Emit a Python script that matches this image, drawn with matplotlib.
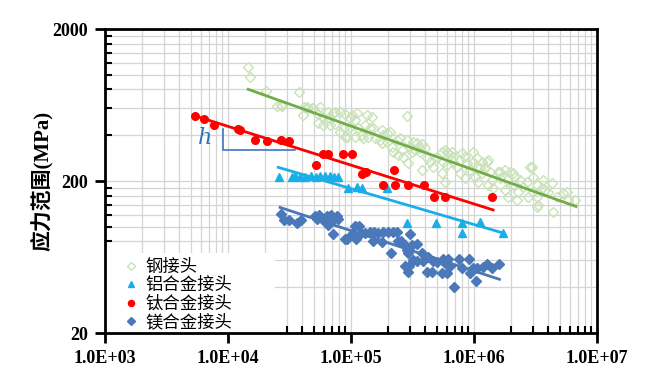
import matplotlib
matplotlib.use("Agg")
import matplotlib.pyplot as plt
import numpy as np
from matplotlib.ticker import FixedLocator, NullFormatter
from matplotlib.patches import Rectangle

plt.rcParams['font.family'] = ['Liberation Serif', 'Noto Sans CJK SC', 'DejaVu Sans']

# ---- data (cycles N, stress range MPa) ----
steel_N = [1.46e4, 1.51e4, 2.04e4, 3.80e4, 2.49e4, 2.68e4, 2.73e4, 4.09e4, 4.17e4, 4.36e4,
           4.50e4, 4.79e4, 4.94e4, 5.60e4, 5.42e4, 5.95e4, 6.62e4, 7.41e4, 8.14e4, 8.94e4,
           1.01e5, 1.11e5, 9.82e4, 1.08e5, 1.34e5, 1.47e5, 5.42e4, 5.95e4, 6.75e4, 7.41e4,
           8.14e4, 8.82e4, 9.82e4, 8.94e4, 1.08e5, 1.15e5, 1.30e5, 1.52e5, 1.38e5, 1.26e5,
           1.78e5, 1.83e5, 2.08e5, 1.72e5, 1.57e5, 1.95e5, 2.14e5, 2.35e5, 2.50e5, 2.58e5,
           2.84e5, 2.84e5, 3.02e5, 3.12e5, 2.66e5, 2.92e5, 2.42e5, 2.21e5, 3.21e5, 3.42e5,
           3.76e5, 3.31e5, 3.64e5, 4.00e5, 4.13e5, 3.76e5, 4.39e5, 4.67e5, 4.98e5, 5.46e5,
           5.81e5, 6.18e5, 6.59e5, 5.63e5, 6.00e5, 5.46e5, 5.81e5, 6.79e5, 7.23e5, 7.94e5,
           8.45e5, 7.70e5, 8.45e5, 9.28e5, 9.87e5, 1.05e6, 1.16e6, 1.31e6, 1.12e6, 1.02e6,
           1.16e6, 1.08e6, 1.23e6, 1.35e6, 1.39e6, 1.31e6, 1.44e6, 1.58e6, 1.79e6, 1.96e6,
           1.63e6, 1.85e6, 2.15e6, 2.37e6, 2.09e6, 1.79e6, 1.90e6, 2.29e6, 2.52e6, 2.68e6,
           2.95e6, 3.04e6, 3.23e6, 3.04e6, 2.76e6, 3.23e6, 3.33e6, 3.55e6, 3.78e6, 4.02e6,
           4.28e6, 4.41e6, 4.70e6, 5.67e6, 5.84e6, 6.62e6, 5.32e6, 2.23e6, 3.23e6, 6.54e4,
           7.18e4, 9.23e4, 1.22e5, 1.43e5, 1.95e5, 1.78e5, 3.64e5, 6.00e5, 6.79e5, 7.70e5,
           8.72e5, 9.87e5, 1.05e6, 1.27e6, 1.63e6, 2.09e6, 2.85e6, 3.66e6]
steel_S = [1119, 971, 782, 774, 626, 632, 626, 544, 617, 617,
           607, 602, 602, 617, 549, 530, 522, 566, 571, 549,
           544, 558, 517, 504, 544, 530, 479, 467, 467, 472,
           422, 444, 455, 391, 391, 444, 467, 448, 391, 382,
           433, 402, 422, 372, 382, 363, 336, 372, 382, 320,
           538, 372, 336, 312, 289, 262, 297, 312, 363, 354,
           350, 320, 312, 328, 282, 236, 268, 248, 289, 312,
           320, 304, 312, 268, 255, 225, 198, 268, 248, 304,
           289, 225, 208, 236, 268, 282, 268, 275, 242, 213,
           225, 198, 242, 230, 203, 188, 179, 230, 236, 230,
           208, 203, 213, 203, 188, 175, 158, 170, 183, 198,
           248, 213, 188, 170, 158, 158, 139, 179, 175, 170,
           193, 126, 158, 170, 150, 150, 166, 150, 135, 571,
           558, 391, 402, 444, 412, 354, 328, 312, 289, 275,
           262, 312, 248, 268, 230, 225, 248, 203]

al_N = [2.60e4, 3.31e4, 3.51e4, 3.85e4, 4.23e4, 4.73e4, 5.19e4, 5.60e4, 6.15e4, 6.75e4,
        7.28e4, 7.84e4, 9.46e4, 1.12e5, 1.23e5, 1.96e5, 2.85e5, 4.91e5, 7.98e5, 7.98e5,
        1.12e6, 1.72e6]
al_S = [212, 212, 216, 212, 212, 216, 212, 216, 216, 216,
        212, 212, 180, 183, 180, 180, 106, 106, 106, 91,
        107, 91]

ti_N = [5390, 6380, 7690, 12000, 12600, 16600, 20800, 27000, 31300, 51900,
        59200, 65000, 86100, 101900, 122800, 132400, 223800, 182000, 228000, 290700,
        392000, 472700, 581000, 1400000]
ti_S = [536, 512, 467, 440, 436, 372, 367, 372, 367, 255,
        301, 301, 301, 301, 222, 229, 236, 188, 188, 188,
        188, 157, 157, 157]

mg_N = [2.68e4, 2.85e4, 3.15e4, 3.66e4, 3.90e4, 5.10e4, 5.52e4, 5.26e4, 5.95e4, 6.34e4,
        6.84e4, 6.54e4, 7.18e4, 7.65e4, 7.88e4, 7.10e4, 8.94e4, 9.33e4, 1.01e5, 1.08e5,
        1.17e5, 1.10e5, 1.20e5, 1.30e5, 1.43e5, 1.54e5, 1.52e5, 1.67e5, 1.83e5, 2.01e5,
        2.21e5, 2.38e5, 1.78e5, 2.10e5, 2.42e5, 2.54e5, 2.75e5, 3.02e5, 2.84e5, 2.92e5,
        3.11e5, 3.42e5, 3.21e5, 3.42e5, 3.76e5, 2.75e5, 2.98e5, 2.92e5, 3.87e5, 4.25e5,
        4.67e5, 4.12e5, 4.53e5, 4.97e5, 5.63e5, 6.18e5, 5.81e5, 6.38e5, 5.46e5, 6.00e5,
        7.60e5, 9.16e5, 7.94e5, 9.87e5, 1.06e6, 9.28e5, 1.04e6, 6.88e5, 1.19e6, 1.28e6,
        1.39e6, 1.61e6]
mg_S = [121, 110, 110, 106, 110, 118, 119, 112, 110, 118,
        119, 103, 110, 118, 112, 89.6, 82.7, 82.7, 89.6, 101,
        101, 82.7, 90.6, 90.6, 92.8, 92.8, 80.9, 90.6, 92.8, 92.8,
        92.8, 92.8, 79.7, 67.5, 80.9, 80.9, 75.9, 89.6, 70.3, 67.5,
        75.9, 77.0, 60.4, 59.8, 67.5, 55.2, 55.2, 50.6, 59.8, 63.0,
        59.8, 50.6, 50.6, 58.9, 61.1, 61.1, 58.0, 55.2, 49.9, 49.9,
        61.1, 61.1, 53.3, 53.3, 53.3, 49.9, 44.2, 40.0, 54.1, 56.9,
        53.3, 56.9]

# fitted lines (end points)
steel_fit_N = [1.46e4, 6.75e6]
steel_fit_S = [802, 136]
al_fit_N = [2.56e4, 1.72e6]
al_fit_S = [246, 91]
ti_fit_N = [5390, 1.43e6]
ti_fit_S = [536, 129]
mg_fit_N = [2.65e4, 1.61e6]
mg_fit_S = [134, 45.1]

labels = ['钢接头', '铝合金接头', '钛合金接头', '镁合金接头']
x_ticks = [1e3, 1e4, 1e5, 1e6, 1e7]
x_ticklabels = ['1.0E+03', '1.0E+04', '1.0E+05', '1.0E+06', '1.0E+07']
y_ticks = [20, 200, 2000]

fig = plt.figure(figsize=(6.56, 3.69), dpi=100)
ax = fig.add_axes([105/656, 1-333/369, 492/656, 304/369])
ax.set_xscale('log')
ax.set_yscale('log')
ax.set_xlim(1e3, 1e7)
ax.set_ylim(20, 2000)

c_steel = '#C9E2B8'
c_steel_line = '#70AD47'
c_al = '#1AAEE8'
c_ti = '#FF0000'
c_mg = '#4A78B8'

ax.plot(steel_N, steel_S, 'D', ms=5, mfc='none', mec=c_steel, mew=1.0, label=labels[0], zorder=3)
ax.plot(al_N, al_S, '^', ms=6, color=c_al, label=labels[1], zorder=4)
ax.plot(ti_N, ti_S, 'o', ms=5.5, color=c_ti, label=labels[2], zorder=4)
ax.plot(mg_N, mg_S, 'D', ms=4.8, color=c_mg, label=labels[3], zorder=4)

ax.plot(steel_fit_N, steel_fit_S, '-', color=c_steel_line, lw=2, zorder=5)
ax.plot(al_fit_N, al_fit_S, '-', color=c_al, lw=2, zorder=5)
ax.plot(ti_fit_N, ti_fit_S, '-', color=c_ti, lw=2, zorder=5)
ax.plot(mg_fit_N, mg_fit_S, '-', color=c_mg, lw=2, zorder=5)

# slope bracket and h
ax.plot([9100, 9100, 35100], [440, 320, 320], '-', color='#4472C4', lw=1.2, zorder=5)
ax.text(6500, 385, 'h', fontsize=16, style='italic', color='#2E75B6',
        family='DejaVu Serif', ha='center', va='center')

# ticks
ax.xaxis.set_major_locator(FixedLocator(x_ticks))
ax.set_xticklabels(x_ticklabels)
xminor = [m * d for d in [1e3, 1e4, 1e5, 1e6] for m in range(2, 10)]
ax.xaxis.set_minor_locator(FixedLocator(xminor))
ax.xaxis.set_minor_formatter(NullFormatter())
ax.yaxis.set_major_locator(FixedLocator(y_ticks))
ax.set_yticklabels([str(v) for v in y_ticks])
yminor = [m * d for d in [20, 200] for m in range(2, 10)]
ax.yaxis.set_minor_locator(FixedLocator(yminor))
ax.yaxis.set_minor_formatter(NullFormatter())

ax.tick_params(which='major', direction='out', length=7, width=2, labelsize=13, pad=5)
ax.tick_params(which='minor', direction='in', length=5, width=1.5)
for lbl in ax.get_xticklabels() + ax.get_yticklabels():
    lbl.set_fontweight('bold')

ax.grid(True, which='both', color='#D4D4D4', lw=0.9, zorder=0)
ax.set_axisbelow(True)
for sp in ax.spines.values():
    sp.set_linewidth(2)
    sp.set_color('black')

ax.set_ylabel('应力范围(MPa)', fontsize=15, fontweight='bold')
ax.yaxis.set_label_coords(-0.104, 0.5)

# white area behind the legend
ax.add_patch(Rectangle((0, 0), 0.345, 0.263, transform=ax.transAxes,
                       facecolor='white', edgecolor='none', zorder=2))

leg = ax.legend(loc='upper left', bbox_to_anchor=(0.039, 0.247), frameon=False,
                handlelength=0.8, handletextpad=0.4, labelspacing=0.02, borderpad=0,
                borderaxespad=0, markerscale=0.8,
                prop={'family': ['Noto Sans CJK SC'], 'size': 12.5})

fig.savefig('out.png', dpi=100)
